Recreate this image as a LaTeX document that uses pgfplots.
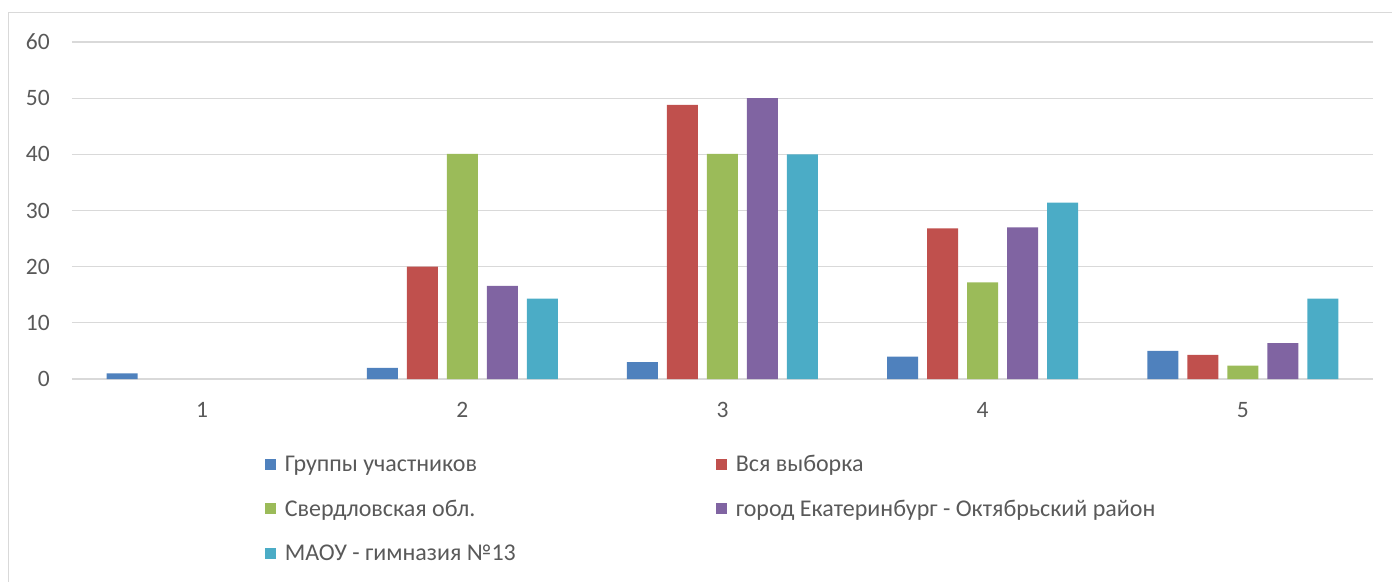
\documentclass[border=0pt]{standalone}
\usepackage{pgfplots}
\pgfplotsset{compat=1.18}
\usepackage{fontspec}
\setmainfont{Carlito}
\definecolor{sA}{HTML}{4F81BD}
\definecolor{sB}{HTML}{C0504D}
\definecolor{sC}{HTML}{9BBB59}
\definecolor{sD}{HTML}{8064A2}
\definecolor{sE}{HTML}{4BACC6}
\definecolor{tgray}{HTML}{595959}
\definecolor{ggray}{HTML}{D9D9D9}
\begin{document}
\begin{tikzpicture}
\begin{axis}[
  at={(0pt,0pt)}, anchor=south west,
  scale only axis, width=1301pt, height=337pt,
  xmin=0.5, xmax=5.5, ymin=0, ymax=60,
  ytick={0,10,...,60}, xtick={1,2,3,4,5},
  ymajorgrids, grid style={ggray, line width=1.3pt},
  axis line style={draw=none},
  major tick length=0pt,
  clip=false,
  ybar, bar width=31pt,
  /pgf/number format/assume math mode=true,
  ticklabel style={font=\fontsize{23.5}{28}\selectfont, text=tgray, inner sep=0pt},
  every x tick label/.append style={yshift=-23pt},
  every y tick label/.append style={xshift=-22pt},
  legend columns=2,
  legend cell align=left,
  legend image code/.code={\fill[#1] (0pt,-3pt) rectangle (11pt,8pt);},
  legend style={
    at={(0.1483,-0.2300)}, anchor=north west, draw=none, fill=none,
    font=\fontsize{24}{28}\selectfont, text=tgray,
    inner sep=0pt, outer sep=0pt,
    nodes={inner sep=0pt, text height=15pt, text depth=5pt},
    row sep=24.5pt, column sep=9pt,
    /tikz/column 2/.style={column sep=200pt},
  },
]
\addplot[fill=sA, draw=none, bar shift=-80pt] coordinates {(1,1) (2,2) (3,3) (4,4) (5,5)};
\addlegendentry{Группы участников}
\addplot[fill=sB, draw=none, bar shift=-40pt] coordinates {(2,20) (3,48.8) (4,26.8) (5,4.3)};
\addlegendentry{Вся выборка}
\addplot[fill=sC, draw=none, bar shift=0pt] coordinates {(2,40.1) (3,40.1) (4,17.2) (5,2.4)};
\addlegendentry{Свердловская обл.}
\addplot[fill=sD, draw=none, bar shift=40pt] coordinates {(2,16.6) (3,50) (4,27) (5,6.4)};
\addlegendentry{город Екатеринбург - Октябрьский район}
\addplot[fill=sE, draw=none, bar shift=80pt] coordinates {(2,14.3) (3,40) (4,31.4) (5,14.3)};
\addlegendentry{МАОУ - гимназия №13}
\end{axis}
\pgfresetboundingbox
\path[use as bounding box] (-72pt,-202pt) rectangle (1320pt,379pt);
\begin{scope}
\clip (-72pt,-202pt) rectangle (1320pt,379pt);
\draw[ggray, line width=1pt] (-63pt,-260pt) rectangle (1360pt,366.5pt);
\end{scope}
\end{tikzpicture}
\end{document}
